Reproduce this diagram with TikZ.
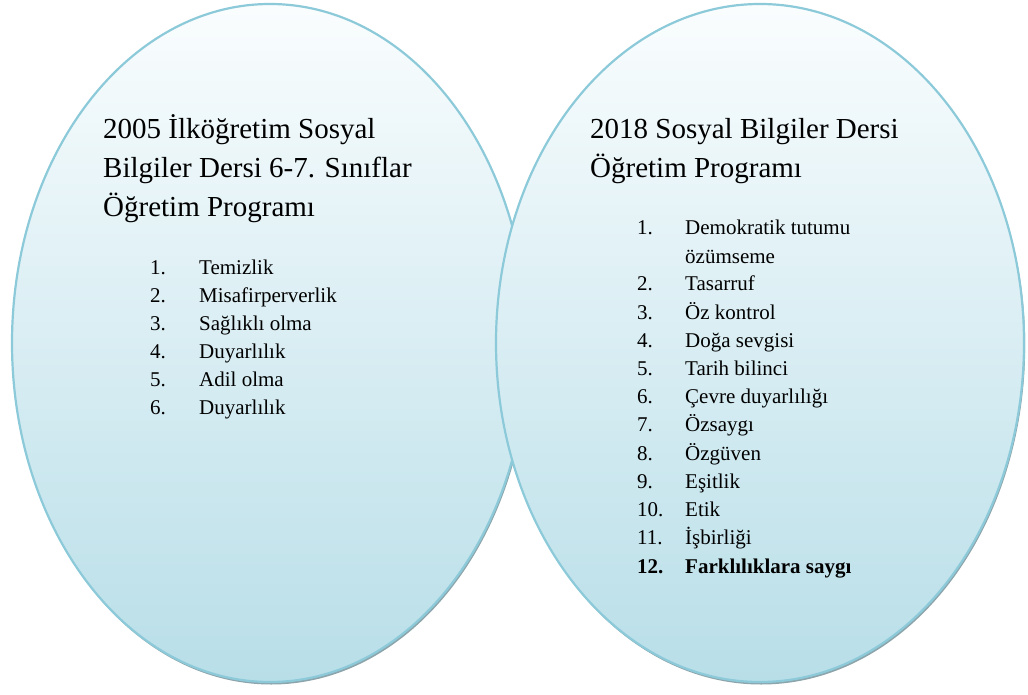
\documentclass[tikz,border=0pt]{standalone}
\usepackage{fontspec}
\setmainfont{Liberation Serif}
\usetikzlibrary{shapes.geometric,shadows}
\definecolor{rimblue}{RGB}{140,202,218}
\definecolor{topfill}{RGB}{250,253,254}
\definecolor{botfill}{RGB}{184,222,232}
\definecolor{shadowgray}{RGB}{140,165,172}
\tikzset{
  oval/.style={ellipse, draw=rimblue, line width=2.2pt, top color=topfill, bottom color=botfill,
    general shadow={shadow xshift=1.2pt, shadow yshift=-2.5pt, fill=shadowgray}},
  title/.style={anchor=base west, inner sep=0pt, font=\fontsize{29}{39}\selectfont},
  num/.style={anchor=base west, inner sep=0pt, font=\fontsize{21}{28}\selectfont},
  item/.style={anchor=base west, inner sep=0pt, font=\fontsize{21}{28}\selectfont}
}
\begin{document}
\begin{tikzpicture}[x=1pt,y=-1pt]
\useasboundingbox (0,0) rectangle (1028,695);
\node[oval, minimum width=516pt, minimum height=678pt] (left) at (270,343) {};
\node[oval, minimum width=528pt, minimum height=678pt] (right) at (760,343) {};
% left title
\node[title] (lt1) at (103,139) {2005 İlköğretim Sosyal};
\node[title] (lt2) at (103,178) {Bilgiler Dersi 6-7. Sınıflar};
\node[title] (lt3) at (103,217) {Öğretim Programı};
% left list
\foreach \n/\t [count=\i] in {1./Temizlik, 2./Misafirperverlik, 3./Sağlıklı olma, 4./Duyarlılık, 5./Adil olma, 6./Duyarlılık}{
  \node[num] (ln\i) at (150,{246+28*\i}) {\n};
  \node[item] (li\i) at (199,{246+28*\i}) {\t};
}
% right title
\node[title] (rt1) at (590,139) {2018 Sosyal Bilgiler Dersi};
\node[title] (rt2) at (590,178) {Öğretim Programı};
% right list
\node[num] (rn1) at (637,235) {1.};
\node[item] (ri1) at (685,235) {Demokratik tutumu};
\node[item] (ri1b) at (685,263) {özümseme};
\foreach \n/\t [count=\i] in {2./Tasarruf, 3./Öz kontrol, 4./Doğa sevgisi, 5./Tarih bilinci, 6./Çevre duyarlılığı, 7./Özsaygı, 8./Özgüven, 9./Eşitlik, 10./Etik, 11./İşbirliği}{
  \node[num] (rn\i) at (637,{262.6+28.2*\i}) {\n};
  \node[item] (ri\i) at (685,{262.6+28.2*\i}) {\t};
}
\node[num, font=\fontsize{21}{28}\selectfont\bfseries] (rn12) at (637,573.3) {12.};
\node[item, font=\fontsize{21}{28}\selectfont\bfseries] (ri12) at (685,573.3) {Farklılıklara saygı};
\end{tikzpicture}
\end{document}
